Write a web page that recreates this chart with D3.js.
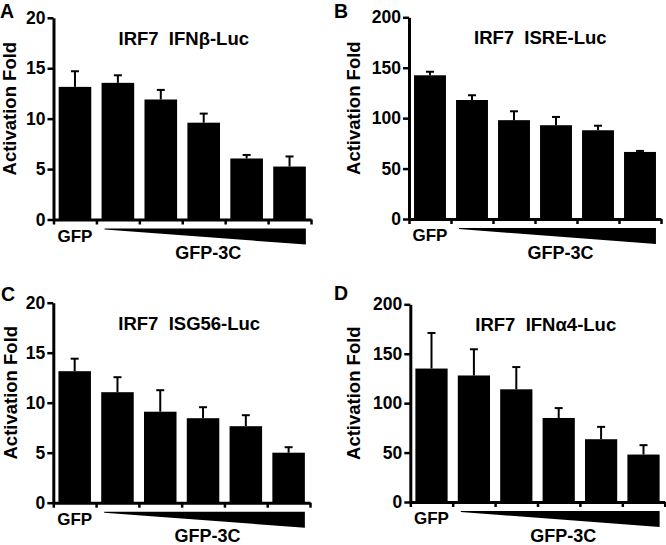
<!DOCTYPE html>
<html>
<head>
<meta charset="utf-8">
<script src="https://cdn.jsdelivr.net/npm/d3@7"></script>
<style>
  html, body { margin: 0; padding: 0; background: #fff; }
  svg { display: block; }
  text { font-family: "Liberation Sans", Arial, Helvetica, sans-serif; font-weight: bold; fill: #000; }
</style>
</head>
<body>
<svg id="chart" width="666" height="545"></svg>
<script>
// ---------------- DATA ----------------
const categories = ["GFP", "GFP-3C dose 1", "GFP-3C dose 2", "GFP-3C dose 3", "GFP-3C dose 4", "GFP-3C dose 5"];
const panelLetters = ["A", "B", "C", "D"];
const panelTitles = ["IRF7  IFNβ-Luc", "IRF7  ISRE-Luc", "IRF7  ISG56-Luc", "IRF7  IFNα4-Luc"];
const yAxisLabel = "Activation Fold";
const controlLabel = "GFP";
const treatmentLabel = "GFP-3C";
const yMaxes = [20, 200, 20, 200];
const yTicksSmall = [0, 5, 10, 15, 20];
const yTicksLarge = [0, 50, 100, 150, 200];

const meansA = [13.15, 13.55, 11.9, 9.6, 6.05, 5.25];
const errsA  = [1.55, 0.75, 0.95, 0.9, 0.35, 1.0];
const meansB = [142.5, 118, 98, 93, 88, 66.5];
const errsB  = [3.5, 4.7, 8.8, 8.2, 4.5, 1.0];
const meansC = [13.15, 11.05, 9.1, 8.45, 7.65, 5.0];
const errsC  = [1.25, 1.5, 2.15, 1.1, 1.1, 0.55];
const meansD = [135, 128, 114, 85, 63.5, 48];
const errsD  = [36, 26.5, 22.5, 10, 12.5, 9.5];

const panelMeans = [meansA, meansB, meansC, meansD];
const panelErrs = [errsA, errsB, errsC, errsD];
const panelTicks = [yTicksSmall, yTicksLarge, yTicksSmall, yTicksLarge];

// ---------------- LAYOUT ----------------
const layouts = [
  { x0: 53.5, x1: 311, yTop: 17.8, yBottom: 219.5, labelX: 16, letterX: 0, letterY: 17.5 },
  { x0: 409, x1: 661, yTop: 17.3, yBottom: 219, labelX: 359.5, letterX: 334, letterY: 17.5 },
  { x0: 53.3, x1: 310, yTop: 302.7, yBottom: 502.7, labelX: 16.5, letterX: 1, letterY: 301 },
  { x0: 410.3, x1: 664.7, yTop: 304.3, yBottom: 502, labelX: 360, letterX: 334, letterY: 300 }
];

const svg = d3.select("#chart");

function drawPanel(i) {
  const L = layouts[i];
  const means = panelMeans[i], errs = panelErrs[i];
  const g = svg.append("g");

  const x = d3.scaleBand().domain(categories).range([L.x0, L.x1])
    .paddingInner(0.24).paddingOuter(0.12);
  const y = d3.scaleLinear().domain([0, yMaxes[i]]).range([L.yBottom, L.yTop]);
  const xb = d3.scaleLinear().domain([0, categories.length]).range([L.x0, L.x1]);

  // bars
  const rows = categories.map((c, k) => ({ c, m: means[k], e: errs[k] }));
  g.selectAll("rect.bar").data(rows).join("rect")
    .attr("class", "bar")
    .attr("x", d => x(d.c))
    .attr("width", x.bandwidth())
    .attr("y", d => y(d.m))
    .attr("height", d => y(0) - y(d.m))
    .attr("fill", "#000");

  // error bars (upper only)
  const capW = 8;
  g.selectAll("line.err").data(rows).join("line")
    .attr("class", "err")
    .attr("x1", d => x(d.c) + x.bandwidth() / 2)
    .attr("x2", d => x(d.c) + x.bandwidth() / 2)
    .attr("y1", d => y(d.m))
    .attr("y2", d => y(d.m + d.e))
    .attr("stroke", "#000").attr("stroke-width", 2);
  g.selectAll("line.cap").data(rows).join("line")
    .attr("class", "cap")
    .attr("x1", d => x(d.c) + x.bandwidth() / 2 - capW / 2)
    .attr("x2", d => x(d.c) + x.bandwidth() / 2 + capW / 2)
    .attr("y1", d => y(d.m + d.e))
    .attr("y2", d => y(d.m + d.e))
    .attr("stroke", "#000").attr("stroke-width", 2);

  // y axis
  const ya = g.append("g").attr("transform", `translate(${L.x0},0)`)
    .call(d3.axisLeft(y).tickValues(panelTicks[i]).tickSize(6).tickSizeOuter(0).tickPadding(2));
  ya.select(".domain").attr("stroke-width", 3);
  ya.selectAll(".tick line").attr("stroke-width", 2.5);
  ya.selectAll(".tick text").style("font-size", "17.5px").attr("font-family", null);

  // x axis with ticks at category boundaries
  const xa = g.append("g").attr("transform", `translate(0,${L.yBottom})`)
    .call(d3.axisBottom(xb).tickValues(d3.range(categories.length + 1)).tickSize(5).tickSizeOuter(0).tickFormat(""));
  xa.select(".domain").attr("stroke-width", 3);
  xa.selectAll(".tick line").attr("stroke-width", 2.5);

  // wedge for increasing dose
  const wx0 = x(categories[1]) + 3;
  const wx1 = x(categories[categories.length - 1]) + x.bandwidth();
  const wTop = L.yBottom + 9, wBot = L.yBottom + 25;
  g.append("path")
    .attr("d", `M${wx0},${wTop}L${wx1},${wTop}L${wx1},${wBot}L${wx0},${wTop + 1}Z`)
    .attr("fill", "#000");

  // x labels
  g.append("text")
    .attr("x", x(categories[0]) + x.bandwidth() / 2)
    .attr("y", L.yBottom + 22)
    .attr("text-anchor", "middle")
    .style("font-size", "17px")
    .text(controlLabel);
  g.append("text")
    .attr("x", (wx0 + wx1) / 2 + 3)
    .attr("y", L.yBottom + 39.5)
    .attr("text-anchor", "middle")
    .style("font-size", "18px")
    .text(treatmentLabel);

  // title
  g.append("text")
    .attr("x", L.x0 + 65)
    .attr("y", L.yTop + 27)
    .attr("text-anchor", "start")
    .style("font-size", "18.5px")
    .style("white-space", "pre")
    .attr("xml:space", "preserve")
    .text(panelTitles[i]);

  // y label
  g.append("text")
    .attr("transform", `translate(${L.labelX},${(L.yTop + L.yBottom) / 2 - 10}) rotate(-90)`)
    .attr("text-anchor", "middle")
    .style("font-size", "18.5px")
    .text(yAxisLabel);

  // panel letter
  svg.append("text")
    .attr("x", L.letterX)
    .attr("y", L.letterY)
    .style("font-size", "19.5px")
    .text(panelLetters[i]);
}

for (let i = 0; i < 4; i++) drawPanel(i);
</script>
</body>
</html>
